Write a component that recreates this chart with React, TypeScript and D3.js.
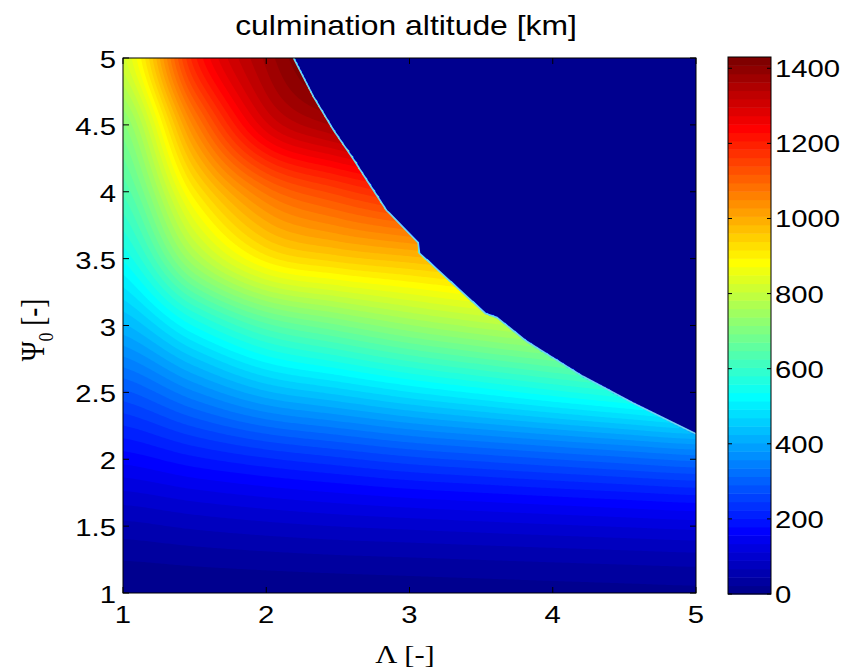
import React, { useMemo } from 'react';
import * as d3 from 'd3';

// Grid axes of the field (Lambda along x, Psi0 along y)
const lambdaGrid = [1, 1.5, 2, 2.5, 3, 3.5, 4, 4.5, 5];
const psiGrid = [1, 1.5, 2, 2.5, 3, 3.5, 4, 4.5, 5];

// culmination altitude [km], one array per Psi0 row (Lambda = 1 .. 5)
const altPsi1_0 = [0, 2, 4, 6, 8, 10, 12, 14, 16];
const altPsi1_5 = [60, 72, 82, 90, 96, 102, 108, 114, 120];
const altPsi2_0 = [165, 195, 220, 240, 260, 275, 290, 305, 320];
const altPsi2_5 = [285, 355, 420, 455, 490, 520, 550, 580, 610];
const altPsi3_0 = [420, 540, 640, 690, 735, 770, 800, 830, 860];
const altPsi3_5 = [540, 760, 905, 950, 975, 1000, 1020, 1030, 1040];
const altPsi4_0 = [630, 910, 1080, 1150, 1200, 1230, 1250, 1260, 1270];
const altPsi4_5 = [710, 1060, 1290, 1370, 1420, 1450, 1470, 1480, 1490];
const altPsi5_0 = [820, 1200, 1370, 1470, 1530, 1560, 1580, 1590, 1600];
const altitudeRows = [altPsi1_0, altPsi1_5, altPsi2_0, altPsi2_5, altPsi3_0, altPsi3_5, altPsi4_0, altPsi4_5, altPsi5_0];

// Edge of the region with a solution (above it the value is 0)
const boundaryLambda = [2.19, 2.33, 2.47, 2.61, 2.70, 2.84, 2.86, 3.06, 3.07, 3.53, 3.61, 3.82, 4.00, 4.21, 4.56, 4.98, 5.0];
const boundaryPsi = [5.0, 4.71, 4.46, 4.24, 4.09, 3.86, 3.84, 3.62, 3.54, 3.09, 3.06, 2.88, 2.76, 2.62, 2.42, 2.20, 2.19];

const xTicks = [1, 2, 3, 4, 5];
const yTicks = [1, 1.5, 2, 2.5, 3, 3.5, 4, 4.5, 5];
const colorTicks = [0, 200, 400, 600, 800, 1000, 1200, 1400];
const colorMax = 1430;

const W = 854, H = 669;
const X0 = 123, X1 = 696, Y0 = 58, Y1 = 593;
const CBX0 = 728, CBX1 = 771, CBY0 = 57, CBY1 = 594;
const SX = 1.22;
const SANS = "'Liberation Sans', Arial, Helvetica, sans-serif";
const SERIF = "'Liberation Serif', 'Times New Roman', serif";

function jetColormap(m: number): string[] {
  const n = Math.ceil(m / 4);
  const u: number[] = [];
  for (let i = 1; i <= n; i++) u.push(i / n);
  for (let i = 1; i <= n - 1; i++) u.push(1);
  for (let i = n; i >= 1; i--) u.push(i / n);
  const off = Math.ceil(n / 2) - (m % 4 === 1 ? 1 : 0);
  const J = Array.from({ length: m }, () => [0, 0, 0]);
  const g = u.map((_, i) => off + i + 1);
  const r = g.map(v => v + n).filter(v => v <= m);
  const b = g.map(v => v - n).filter(v => v >= 1);
  const gg = g.filter(v => v <= m);
  r.forEach((row, i) => (J[row - 1][0] = u[i]));
  gg.forEach((row, i) => (J[row - 1][1] = u[i]));
  b.forEach((row, i) => (J[row - 1][2] = u[u.length - b.length + i]));
  return J.map(([R, G, B]) => d3.rgb(R * 255, G * 255, B * 255).formatHex());
}

function cr(p0: number, p1: number, p2: number, p3: number, t: number) {
  return 0.5 * (2 * p1 + (-p0 + p2) * t + (2 * p0 - 5 * p1 + 4 * p2 - p3) * t * t + (-p0 + 3 * p1 - 3 * p2 + p3) * t * t * t);
}

function fieldAt(lam: number, psi: number) {
  const nc = lambdaGrid.length, nr = psiGrid.length;
  const gx = (lam - lambdaGrid[0]) / (lambdaGrid[1] - lambdaGrid[0]);
  const gy = (psi - psiGrid[0]) / (psiGrid[1] - psiGrid[0]);
  const i = Math.min(nc - 2, Math.max(0, Math.floor(gx)));
  const j = Math.min(nr - 2, Math.max(0, Math.floor(gy)));
  const tx = gx - i, ty = gy - j;
  const cl = (v: number, n: number) => Math.min(n - 1, Math.max(0, v));
  const rowVals = [-1, 0, 1, 2].map(dj => {
    const row = altitudeRows[cl(j + dj, nr)];
    return cr(row[cl(i - 1, nc)], row[cl(i, nc)], row[cl(i + 1, nc)], row[cl(i + 2, nc)], tx);
  });
  return cr(rowVals[0], rowVals[1], rowVals[2], rowVals[3], ty);
}

export default function App() {
  const x = d3.scaleLinear().domain([1, 5]).range([X0, X1]);
  const y = d3.scaleLinear().domain([1, 5]).range([Y1, Y0]);
  const c = d3.scaleLinear().domain([0, colorMax]).range([CBY1, CBY0]);
  const jet = useMemo(() => jetColormap(64), []);

  const field = useMemo(() => {
    const nx = Math.round((X1 - X0) / 2), ny = Math.round((Y1 - Y0) / 2);
    const psiMax = d3.scaleLinear().domain(boundaryLambda).range(boundaryPsi).clamp(true);
    const values: number[] = new Array(nx * ny);
    for (let j = 0; j < ny; j++) {
      const psi = y.invert(Y0 + ((j + 0.5) / ny) * (Y1 - Y0));
      for (let i = 0; i < nx; i++) {
        const lam = x.invert(X0 + ((i + 0.5) / nx) * (X1 - X0));
        const masked = lam >= boundaryLambda[0] && psi > psiMax(lam);
        values[j * nx + i] = masked ? 0 : Math.max(0, fieldAt(lam, psi));
      }
    }
    const thresholds = d3.range(1, 64).map(k => (k * colorMax) / 64);
    const cs = d3.contours().size([nx, ny]).thresholds(thresholds)(values);
    const path = d3.geoPath();
    return { nx, ny, layers: cs.map((cc, k) => ({ d: path(cc) || '', color: jet[k + 1] })) };
  }, []);

  const edge = d3.line<[number, number]>().x(d => x(d[0])).y(d => y(d[1]))(
    boundaryLambda.map((l, i) => [l, boundaryPsi[i]] as [number, number])
  );

  const bands = d3.range(64);
  const tl = 6;

  return (
    <svg width={W} height={H} style={{ position: 'absolute', left: 0, top: 0, background: '#fff' }}>
      <rect x={0} y={0} width={W} height={H} fill="#fff" />
      <text transform={`translate(406,35) scale(1.18,1)`} textAnchor="middle" fontFamily={SANS} fontSize={27} fill="#000">
        culmination altitude [km]
      </text>
      <defs>
        <clipPath id="plotclip"><rect x={X0} y={Y0} width={X1 - X0} height={Y1 - Y0} /></clipPath>
      </defs>
      <g clipPath="url(#plotclip)">
        <rect x={X0} y={Y0} width={X1 - X0} height={Y1 - Y0} fill={jet[0]} />
        <g transform={`translate(${X0},${Y0}) scale(${(X1 - X0) / field.nx},${(Y1 - Y0) / field.ny})`}>
          {field.layers.map((l, k) => <path key={k} d={l.d} fill={l.color} stroke="none" />)}
        </g>
        <path d={edge || ''} fill="none" stroke="#70d4f0" strokeWidth={1.6} />
      </g>
      <rect x={X0} y={Y0} width={X1 - X0} height={Y1 - Y0} fill="none" stroke="#000" strokeWidth={1} />
      {xTicks.map(t => (
        <g key={'xt' + t}>
          <line x1={x(t)} x2={x(t)} y1={Y1} y2={Y1 - tl} stroke="#000" />
          <line x1={x(t)} x2={x(t)} y1={Y0} y2={Y0 + tl} stroke="#000" />
          <text transform={`translate(${x(t)},623) scale(${SX},1)`} textAnchor="middle" fontFamily={SANS} fontSize={24}>{t}</text>
        </g>
      ))}
      {yTicks.map(t => (
        <g key={'yt' + t}>
          <line x1={X0} x2={X0 + tl} y1={y(t)} y2={y(t)} stroke="#000" />
          <line x1={X1} x2={X1 - tl} y1={y(t)} y2={y(t)} stroke="#000" />
          <text transform={`translate(116,${y(t) + 10}) scale(${SX},1)`} textAnchor="end" fontFamily={SANS} fontSize={24}>{t}</text>
        </g>
      ))}
      <text transform={`translate(405,663) scale(${SX},1)`} textAnchor="middle" fontFamily={SERIF} fontSize={25}>Λ [-]</text>
      <text transform={`translate(44,330) scale(${SX},1) rotate(-90)`} textAnchor="middle" fontFamily={SERIF} fontSize={27}>
        Ψ<tspan fontSize={18} dy={7}>0</tspan><tspan dy={-7}> [-]</tspan>
      </text>
      {bands.map(k => (
        <rect key={'cb' + k} x={CBX0} width={CBX1 - CBX0}
          y={c(((k + 1) * colorMax) / 64)} height={c((k * colorMax) / 64) - c(((k + 1) * colorMax) / 64) + 0.5}
          fill={jet[k]} />
      ))}
      <rect x={CBX0} y={CBY0} width={CBX1 - CBX0} height={CBY1 - CBY0} fill="none" stroke="#000" />
      {colorTicks.map(t => (
        <g key={'ct' + t}>
          <line x1={CBX0} x2={CBX0 + 4} y1={c(t)} y2={c(t)} stroke="#000" />
          <line x1={CBX1} x2={CBX1 - 4} y1={c(t)} y2={c(t)} stroke="#000" />
          <text transform={`translate(775,${c(t) + 9}) scale(${SX},1)`} textAnchor="start" fontFamily={SANS} fontSize={24}>{t}</text>
        </g>
      ))}
    </svg>
  );
}
